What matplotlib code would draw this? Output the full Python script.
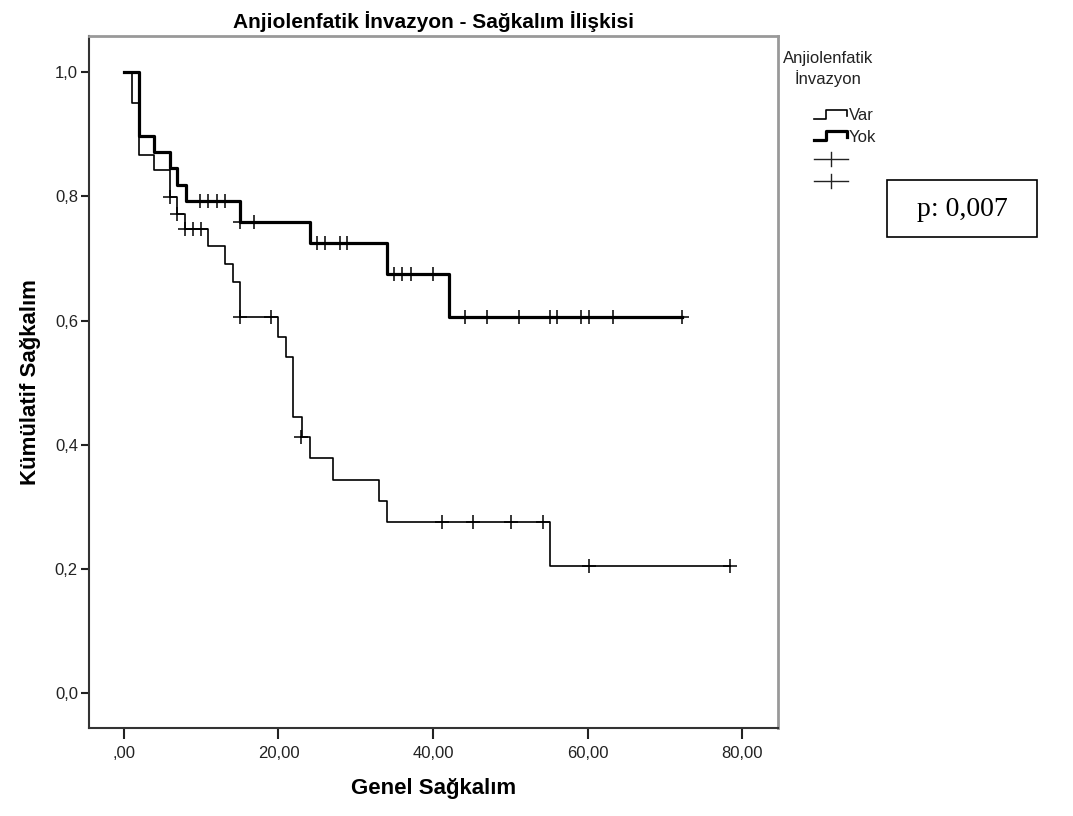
import matplotlib
matplotlib.use("Agg")
import matplotlib.pyplot as plt
from matplotlib.lines import Line2D
from matplotlib.patches import Rectangle
from matplotlib.ticker import FuncFormatter

plt.rcParams['font.family'] = ['Liberation Sans', 'DejaVu Sans']

# Kaplan-Meier steps: event times and survival after each event
var_times = [0, 1, 2, 3.9, 5.95, 6.9, 7.9, 10.9, 13.1, 14.1, 15.0, 20.0, 21.0, 21.9, 23.1, 24.1, 27.1, 33.0, 34.1, 55.1, 78.4]
var_surv = [1.0, 0.950, 0.866, 0.842, 0.799, 0.772, 0.748, 0.720, 0.691, 0.662, 0.605, 0.574, 0.542, 0.445, 0.413, 0.379, 0.344, 0.309, 0.275, 0.205, 0.205]
var_cens_t = [5.95, 6.9, 7.9, 9.0, 10.0, 15.0, 19.1, 22.9, 41.1, 45.1, 50.1, 54.2, 60.1, 78.4]
var_cens_s = [0.799, 0.772, 0.748, 0.748, 0.748, 0.605, 0.605, 0.413, 0.275, 0.275, 0.275, 0.275, 0.205, 0.205]

yok_times = [0, 2, 3.9, 5.95, 6.9, 8.0, 15.0, 24.1, 34.1, 42.1, 72.2]
yok_surv = [1.0, 0.897, 0.871, 0.845, 0.818, 0.792, 0.759, 0.724, 0.675, 0.606, 0.606]
yok_cens_t = [9.9, 10.9, 12.0, 13.1, 15.0, 16.9, 25.0, 26.0, 27.9, 28.9, 34.9, 36.0, 37.1, 40.0,
              44.1, 47.0, 51.1, 55.1, 56.0, 59.1, 60.2, 63.2, 72.2]
yok_cens_s = [0.792] * 4 + [0.759] * 2 + [0.724] * 4 + [0.675] * 4 + [0.606] * 9

x_ticks = [0, 20, 40, 60, 80]
y_ticks = [0.0, 0.2, 0.4, 0.6, 0.8, 1.0]

fig = plt.figure(figsize=(10.73, 8.16), dpi=100)
ax = fig.add_axes([89 / 1073, 88 / 816, 689 / 1073, 692 / 816])

ax.step(var_times, var_surv, where='post', color='black', lw=1.2)
ax.step(yok_times, yok_surv, where='post', color='black', lw=2.3)
ax.plot(var_cens_t, var_cens_s, '+', color='black', ms=10, mew=1.1)
ax.plot(yok_cens_t, yok_cens_s, '+', color='black', ms=10, mew=1.1)

ax.set_xlim(-4.5, 84.6)
ax.set_ylim(-0.056, 1.058)
ax.set_xticks(x_ticks)
ax.set_yticks(y_ticks)
ax.xaxis.set_major_formatter(FuncFormatter(lambda v, p: ',00' if v == 0 else f'{v:.2f}'.replace('.', ',')))
ax.yaxis.set_major_formatter(FuncFormatter(lambda v, p: f'{v:.1f}'.replace('.', ',')))
ax.tick_params(axis='both', labelsize=12, colors='#222222', width=1.5)
ax.tick_params(axis='y', length=6, pad=2)
ax.tick_params(axis='x', length=8, pad=5)

for side in ('left', 'bottom'):
    ax.spines[side].set_color('#333333')
    ax.spines[side].set_linewidth(1.5)
for side in ('top', 'right'):
    ax.spines[side].set_color('#999999')
    ax.spines[side].set_linewidth(2)

ax.set_title('Anjiolenfatik İnvazyon - Sağkalım İlişkisi', fontsize=15, fontweight='bold', pad=6)
ax.set_xlabel('Genel Sağkalım', fontsize=16, fontweight='bold', labelpad=12)
ax.set_ylabel('Kümülatif Sağkalım', fontsize=16, fontweight='bold', labelpad=10)

# legend drawn by hand in pixel coordinates (SPSS style step glyphs)
def px(x, y):
    return x / 1073, 1 - y / 816

fig.text(*px(828, 59), 'Anjiolenfatik', fontsize=12, ha='center', va='center', color='#222222')
fig.text(*px(828, 79), 'İnvazyon', fontsize=12, ha='center', va='center', color='#222222')

for y0, lw, label in [(119, 1.2, 'Var'), (140, 2.3, 'Yok')]:
    xs = [814, 826, 826, 847, 847]
    ys = [y0, y0, y0 - 9, y0 - 9, y0 - 3]
    fig.add_artist(Line2D([px(x, 0)[0] for x in xs], [px(0, y)[1] for y in ys],
                          color='black', lw=lw, transform=fig.transFigure))
    fig.text(*px(849, y0 - 3), label, fontsize=12, ha='left', va='center', color='#222222')

for yc in (159, 181):
    fig.add_artist(Line2D([px(814, 0)[0], px(848, 0)[0]], [px(0, yc)[1]] * 2,
                          color='#222222', lw=1.0, transform=fig.transFigure))
    fig.add_artist(Line2D([px(831, 0)[0]] * 2, [px(0, yc - 7)[1], px(0, yc + 7)[1]],
                          color='#222222', lw=1.0, transform=fig.transFigure))

# p-value box
x0, y0 = px(887, 237)
x1, y1 = px(1037, 180)
fig.add_artist(Rectangle((x0, y0), x1 - x0, y1 - y0, transform=fig.transFigure,
                         facecolor='white', edgecolor='black', lw=1.2))
fig.text(*px(962, 209), 'p: 0,007', fontsize=20, family='Liberation Serif', ha='center', va='center')

fig.savefig('out.png', dpi=100)
